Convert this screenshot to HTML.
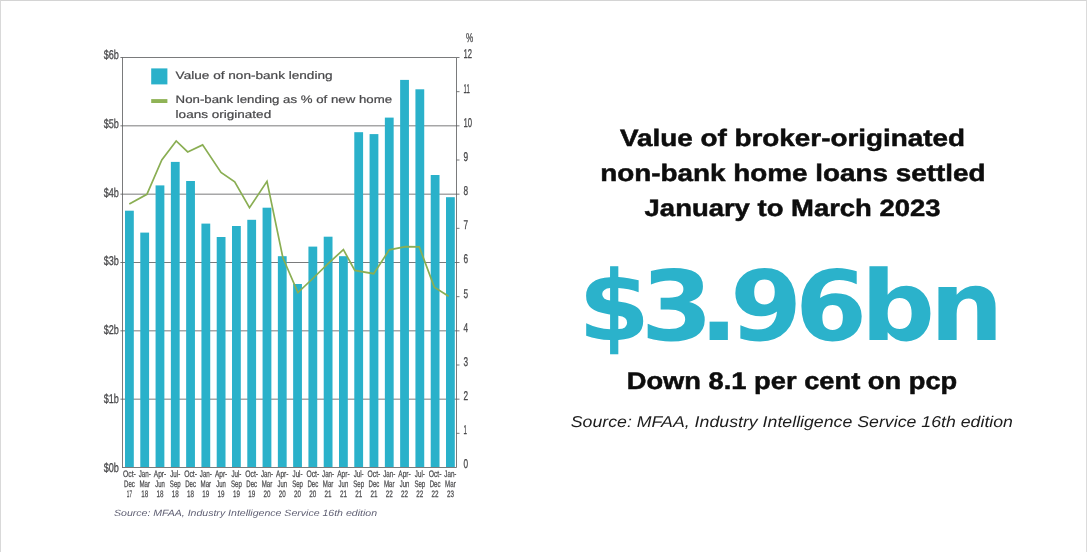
<!DOCTYPE html>
<html lang="en">
<head>
<meta charset="utf-8">
<title>Value of broker-originated non-bank home loans settled</title>
<style>
html,body{margin:0;padding:0;background:#fff;}
body{width:1087px;height:552px;position:relative;overflow:hidden;font-family:"Liberation Sans",sans-serif;}
.frame{position:absolute;left:0;top:0;width:1087px;height:552px;box-sizing:border-box;border-top:1px solid #d4d4d4;border-left:1px solid #d9d9d9;border-right:1px solid #dbdbdb;}
svg.chart{position:absolute;left:0;top:0;}
svg text{font-family:"Liberation Sans",sans-serif;text-rendering:geometricPrecision;}
.leg text{font-size:10.9px;stroke:#434345;stroke-width:0.2px;}
.ax text{font-size:12.8px;stroke:#4a4a4c;stroke-width:0.3px;}
.xl text{font-size:9.4px;stroke:#4a4a4c;stroke-width:0.25px;}
.src{font-size:9px;font-style:italic;}
.panel{position:absolute;left:497px;top:0;width:590px;height:552px;}
.panel svg{position:absolute;left:0;top:0;}
.h text{font-weight:bold;font-size:23.7px;fill:#0d0d0d;stroke:#0d0d0d;stroke-width:0.5px;}
.big{font-family:"DejaVu Sans","Liberation Sans",sans-serif;font-weight:bold;font-size:97px;fill:#2bb2cb;}
.sub{font-weight:bold;font-size:24px;fill:#0d0d0d;stroke:#0d0d0d;stroke-width:0.5px;}
.cite{font-style:italic;font-size:15.7px;fill:#1c1c1c;}
</style>
</head>
<body>
<div class="frame"></div>
<svg class="chart" width="1087" height="552" viewBox="0 0 1087 552">
<g stroke="#58595b" stroke-width="0.8" fill="none">
<line x1="120.40" y1="57.50" x2="456.50" y2="57.50"/>
<line x1="120.40" y1="125.83" x2="456.50" y2="125.83"/>
<line x1="120.40" y1="194.17" x2="456.50" y2="194.17"/>
<line x1="120.40" y1="262.50" x2="456.50" y2="262.50"/>
<line x1="120.40" y1="330.83" x2="456.50" y2="330.83"/>
<line x1="120.40" y1="399.17" x2="456.50" y2="399.17"/>
<line x1="122.10" y1="467.50" x2="456.50" y2="467.50"/>
<line x1="122.5" y1="57.5" x2="122.5" y2="467.5"/>
<line x1="456.5" y1="57.5" x2="456.5" y2="467.5"/>
<line x1="456.50" y1="57.50" x2="459.50" y2="57.50"/>
<line x1="456.50" y1="91.67" x2="459.50" y2="91.67"/>
<line x1="456.50" y1="125.83" x2="459.50" y2="125.83"/>
<line x1="456.50" y1="160.00" x2="459.50" y2="160.00"/>
<line x1="456.50" y1="194.17" x2="459.50" y2="194.17"/>
<line x1="456.50" y1="228.33" x2="459.50" y2="228.33"/>
<line x1="456.50" y1="262.50" x2="459.50" y2="262.50"/>
<line x1="456.50" y1="296.67" x2="459.50" y2="296.67"/>
<line x1="456.50" y1="330.83" x2="459.50" y2="330.83"/>
<line x1="456.50" y1="365.00" x2="459.50" y2="365.00"/>
<line x1="456.50" y1="399.17" x2="459.50" y2="399.17"/>
<line x1="456.50" y1="433.33" x2="459.50" y2="433.33"/>
</g>
<g fill="#2ab1ca">
<rect x="125.00" y="210.70" width="8.8" height="256.30"/>
<rect x="140.29" y="232.60" width="8.8" height="234.40"/>
<rect x="155.57" y="185.40" width="8.8" height="281.60"/>
<rect x="170.86" y="161.90" width="8.8" height="305.10"/>
<rect x="186.14" y="181.00" width="8.8" height="286.00"/>
<rect x="201.43" y="223.60" width="8.8" height="243.40"/>
<rect x="216.71" y="237.00" width="8.8" height="230.00"/>
<rect x="232.00" y="226.00" width="8.8" height="241.00"/>
<rect x="247.29" y="219.80" width="8.8" height="247.20"/>
<rect x="262.57" y="207.70" width="8.8" height="259.30"/>
<rect x="277.86" y="256.20" width="8.8" height="210.80"/>
<rect x="293.14" y="284.00" width="8.8" height="183.00"/>
<rect x="308.43" y="246.60" width="8.8" height="220.40"/>
<rect x="323.71" y="236.70" width="8.8" height="230.30"/>
<rect x="339.00" y="256.20" width="8.8" height="210.80"/>
<rect x="354.29" y="132.20" width="8.8" height="334.80"/>
<rect x="369.57" y="134.10" width="8.8" height="332.90"/>
<rect x="384.86" y="117.60" width="8.8" height="349.40"/>
<rect x="400.14" y="79.90" width="8.8" height="387.10"/>
<rect x="415.43" y="89.30" width="8.8" height="377.70"/>
<rect x="430.71" y="175.00" width="8.8" height="292.00"/>
<rect x="446.00" y="197.20" width="8.8" height="269.80"/>
</g>
<polyline points="129.3,204.1 146.9,194.3 161.8,159.9 176.2,141.0 187.7,151.9 202.6,144.9 221.0,172.4 234.7,181.8 249.5,207.7 267.0,181.4 282.9,257.8 297.9,292.6 312.8,278.5 328.1,263.7 343.4,249.6 354.8,270.4 373.7,273.7 389.3,249.8 405.6,246.6 419.3,246.9 434.3,287.1 448.6,296.2" fill="none" stroke="#8aae53" stroke-width="1.7" stroke-linejoin="miter"/>
<rect x="151.2" y="68.4" width="16.2" height="16.0" fill="#2ab1ca"/>
<rect x="151.2" y="99.1" width="16.2" height="3.9" fill="#8fb356"/>
<g class="leg" fill="#4a4a4c">
<text x="175.6" y="78.8" textLength="157" lengthAdjust="spacingAndGlyphs">Value of non-bank lending</text>
<text x="175.6" y="103.1" textLength="216.5" lengthAdjust="spacingAndGlyphs">Non-bank lending as % of new home</text>
<text x="175.6" y="117.8" textLength="95.6" lengthAdjust="spacingAndGlyphs">loans originated</text>
</g>
<g class="ax" fill="#4a4a4c">
<text x="103.7" y="59.00" textLength="15.2" lengthAdjust="spacingAndGlyphs">$6b</text>
<text x="103.7" y="127.78" textLength="15.2" lengthAdjust="spacingAndGlyphs">$5b</text>
<text x="103.7" y="196.56" textLength="15.2" lengthAdjust="spacingAndGlyphs">$4b</text>
<text x="103.7" y="265.34" textLength="15.2" lengthAdjust="spacingAndGlyphs">$3b</text>
<text x="103.7" y="334.12" textLength="15.2" lengthAdjust="spacingAndGlyphs">$2b</text>
<text x="103.7" y="402.90" textLength="15.2" lengthAdjust="spacingAndGlyphs">$1b</text>
<text x="103.7" y="471.68" textLength="15.2" lengthAdjust="spacingAndGlyphs">$0b</text>
<text x="463.5" y="58.40" textLength="8.5" lengthAdjust="spacingAndGlyphs">12</text>
<text x="463.5" y="92.57" textLength="6.2" lengthAdjust="spacingAndGlyphs">11</text>
<text x="463.5" y="126.73" textLength="8.6" lengthAdjust="spacingAndGlyphs">10</text>
<text x="463.5" y="160.90" textLength="4.6" lengthAdjust="spacingAndGlyphs">9</text>
<text x="463.5" y="195.07" textLength="4.6" lengthAdjust="spacingAndGlyphs">8</text>
<text x="463.5" y="229.23" textLength="4.6" lengthAdjust="spacingAndGlyphs">7</text>
<text x="463.5" y="263.40" textLength="4.6" lengthAdjust="spacingAndGlyphs">6</text>
<text x="463.5" y="297.57" textLength="4.6" lengthAdjust="spacingAndGlyphs">5</text>
<text x="463.5" y="331.73" textLength="4.6" lengthAdjust="spacingAndGlyphs">4</text>
<text x="463.5" y="365.90" textLength="4.6" lengthAdjust="spacingAndGlyphs">3</text>
<text x="463.5" y="400.07" textLength="4.6" lengthAdjust="spacingAndGlyphs">2</text>
<text x="463.5" y="434.23" textLength="3.4" lengthAdjust="spacingAndGlyphs">1</text>
<text x="463.5" y="468.40" textLength="4.6" lengthAdjust="spacingAndGlyphs">0</text>
<text x="466" y="42.3" textLength="7.2" lengthAdjust="spacingAndGlyphs">%</text>
</g>
<g class="xl" fill="#4a4a4c" text-anchor="middle">
<text x="129.40" y="477.0" textLength="12.8" lengthAdjust="spacingAndGlyphs">Oct-</text>
<text x="129.40" y="486.8" textLength="10.8" lengthAdjust="spacingAndGlyphs">Dec</text>
<text x="129.40" y="496.5" textLength="5.2" lengthAdjust="spacingAndGlyphs">17</text>
<text x="144.69" y="477.0" textLength="12.1" lengthAdjust="spacingAndGlyphs">Jan-</text>
<text x="144.69" y="486.8" textLength="10.6" lengthAdjust="spacingAndGlyphs">Mar</text>
<text x="144.69" y="496.5" textLength="7.0" lengthAdjust="spacingAndGlyphs">18</text>
<text x="159.97" y="477.0" textLength="12.4" lengthAdjust="spacingAndGlyphs">Apr-</text>
<text x="159.97" y="486.8" textLength="9.6" lengthAdjust="spacingAndGlyphs">Jun</text>
<text x="159.97" y="496.5" textLength="7.0" lengthAdjust="spacingAndGlyphs">18</text>
<text x="175.26" y="477.0" textLength="10.0" lengthAdjust="spacingAndGlyphs">Jul-</text>
<text x="175.26" y="486.8" textLength="10.8" lengthAdjust="spacingAndGlyphs">Sep</text>
<text x="175.26" y="496.5" textLength="7.0" lengthAdjust="spacingAndGlyphs">18</text>
<text x="190.54" y="477.0" textLength="12.8" lengthAdjust="spacingAndGlyphs">Oct-</text>
<text x="190.54" y="486.8" textLength="10.8" lengthAdjust="spacingAndGlyphs">Dec</text>
<text x="190.54" y="496.5" textLength="7.0" lengthAdjust="spacingAndGlyphs">18</text>
<text x="205.83" y="477.0" textLength="12.1" lengthAdjust="spacingAndGlyphs">Jan-</text>
<text x="205.83" y="486.8" textLength="10.6" lengthAdjust="spacingAndGlyphs">Mar</text>
<text x="205.83" y="496.5" textLength="7.0" lengthAdjust="spacingAndGlyphs">19</text>
<text x="221.11" y="477.0" textLength="12.4" lengthAdjust="spacingAndGlyphs">Apr-</text>
<text x="221.11" y="486.8" textLength="9.6" lengthAdjust="spacingAndGlyphs">Jun</text>
<text x="221.11" y="496.5" textLength="7.0" lengthAdjust="spacingAndGlyphs">19</text>
<text x="236.40" y="477.0" textLength="10.0" lengthAdjust="spacingAndGlyphs">Jul-</text>
<text x="236.40" y="486.8" textLength="10.8" lengthAdjust="spacingAndGlyphs">Sep</text>
<text x="236.40" y="496.5" textLength="7.0" lengthAdjust="spacingAndGlyphs">19</text>
<text x="251.69" y="477.0" textLength="12.8" lengthAdjust="spacingAndGlyphs">Oct-</text>
<text x="251.69" y="486.8" textLength="10.8" lengthAdjust="spacingAndGlyphs">Dec</text>
<text x="251.69" y="496.5" textLength="7.0" lengthAdjust="spacingAndGlyphs">19</text>
<text x="266.97" y="477.0" textLength="12.1" lengthAdjust="spacingAndGlyphs">Jan-</text>
<text x="266.97" y="486.8" textLength="10.6" lengthAdjust="spacingAndGlyphs">Mar</text>
<text x="266.97" y="496.5" textLength="7.0" lengthAdjust="spacingAndGlyphs">20</text>
<text x="282.26" y="477.0" textLength="12.4" lengthAdjust="spacingAndGlyphs">Apr-</text>
<text x="282.26" y="486.8" textLength="9.6" lengthAdjust="spacingAndGlyphs">Jun</text>
<text x="282.26" y="496.5" textLength="7.0" lengthAdjust="spacingAndGlyphs">20</text>
<text x="297.54" y="477.0" textLength="10.0" lengthAdjust="spacingAndGlyphs">Jul-</text>
<text x="297.54" y="486.8" textLength="10.8" lengthAdjust="spacingAndGlyphs">Sep</text>
<text x="297.54" y="496.5" textLength="7.0" lengthAdjust="spacingAndGlyphs">20</text>
<text x="312.83" y="477.0" textLength="12.8" lengthAdjust="spacingAndGlyphs">Oct-</text>
<text x="312.83" y="486.8" textLength="10.8" lengthAdjust="spacingAndGlyphs">Dec</text>
<text x="312.83" y="496.5" textLength="7.0" lengthAdjust="spacingAndGlyphs">20</text>
<text x="328.11" y="477.0" textLength="12.1" lengthAdjust="spacingAndGlyphs">Jan-</text>
<text x="328.11" y="486.8" textLength="10.6" lengthAdjust="spacingAndGlyphs">Mar</text>
<text x="328.11" y="496.5" textLength="7.0" lengthAdjust="spacingAndGlyphs">21</text>
<text x="343.40" y="477.0" textLength="12.4" lengthAdjust="spacingAndGlyphs">Apr-</text>
<text x="343.40" y="486.8" textLength="9.6" lengthAdjust="spacingAndGlyphs">Jun</text>
<text x="343.40" y="496.5" textLength="7.0" lengthAdjust="spacingAndGlyphs">21</text>
<text x="358.69" y="477.0" textLength="10.0" lengthAdjust="spacingAndGlyphs">Jul-</text>
<text x="358.69" y="486.8" textLength="10.8" lengthAdjust="spacingAndGlyphs">Sep</text>
<text x="358.69" y="496.5" textLength="7.0" lengthAdjust="spacingAndGlyphs">21</text>
<text x="373.97" y="477.0" textLength="12.8" lengthAdjust="spacingAndGlyphs">Oct-</text>
<text x="373.97" y="486.8" textLength="10.8" lengthAdjust="spacingAndGlyphs">Dec</text>
<text x="373.97" y="496.5" textLength="7.0" lengthAdjust="spacingAndGlyphs">21</text>
<text x="389.26" y="477.0" textLength="12.1" lengthAdjust="spacingAndGlyphs">Jan-</text>
<text x="389.26" y="486.8" textLength="10.6" lengthAdjust="spacingAndGlyphs">Mar</text>
<text x="389.26" y="496.5" textLength="7.0" lengthAdjust="spacingAndGlyphs">22</text>
<text x="404.54" y="477.0" textLength="12.4" lengthAdjust="spacingAndGlyphs">Apr-</text>
<text x="404.54" y="486.8" textLength="9.6" lengthAdjust="spacingAndGlyphs">Jun</text>
<text x="404.54" y="496.5" textLength="7.0" lengthAdjust="spacingAndGlyphs">22</text>
<text x="419.83" y="477.0" textLength="10.0" lengthAdjust="spacingAndGlyphs">Jul-</text>
<text x="419.83" y="486.8" textLength="10.8" lengthAdjust="spacingAndGlyphs">Sep</text>
<text x="419.83" y="496.5" textLength="7.0" lengthAdjust="spacingAndGlyphs">22</text>
<text x="435.11" y="477.0" textLength="12.8" lengthAdjust="spacingAndGlyphs">Oct-</text>
<text x="435.11" y="486.8" textLength="10.8" lengthAdjust="spacingAndGlyphs">Dec</text>
<text x="435.11" y="496.5" textLength="7.0" lengthAdjust="spacingAndGlyphs">22</text>
<text x="450.40" y="477.0" textLength="12.1" lengthAdjust="spacingAndGlyphs">Jan-</text>
<text x="450.40" y="486.8" textLength="10.6" lengthAdjust="spacingAndGlyphs">Mar</text>
<text x="450.40" y="496.5" textLength="7.0" lengthAdjust="spacingAndGlyphs">23</text>
</g>
<text class="src" x="114" y="516" textLength="263" lengthAdjust="spacingAndGlyphs" fill="#5e5e72">Source: MFAA, Industry Intelligence Service 16th edition</text>
</svg>
<div class="panel">
<svg width="590" height="552" viewBox="497 0 590 552">
<g class="h">
<text x="620" y="145.9" textLength="345" lengthAdjust="spacingAndGlyphs">Value of broker-originated</text>
<text x="600.2" y="180.7" textLength="385.3" lengthAdjust="spacingAndGlyphs">non-bank home loans settled</text>
<text x="644.6" y="215.7" textLength="296" lengthAdjust="spacingAndGlyphs">January to March 2023</text>
</g>
<text class="big" transform="scale(1.07,1)" x="540.09 598.93 653.27 682.15 743.08 804.49 868.97" y="340.3">$3.96bn</text>
<text class="sub" x="626.7" y="389.2" textLength="330.6" lengthAdjust="spacingAndGlyphs">Down 8.1 per cent on pcp</text>
<text class="cite" x="570.8" y="426.8" textLength="442.2" lengthAdjust="spacingAndGlyphs">Source: MFAA, Industry Intelligence Service 16th edition</text>
</svg>
</div>
</body>
</html>
